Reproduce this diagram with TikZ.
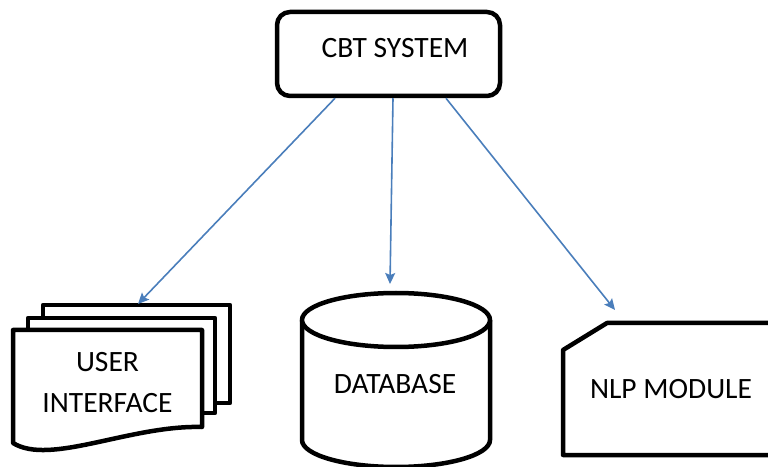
\documentclass[tikz,border=0pt]{standalone}
\usepackage{fontspec}
\setmainfont{Carlito}
\usetikzlibrary{arrows.meta,calc}
\definecolor{arrblue}{RGB}{74,126,187}
\tikzset{
  shapeline/.style={line width=4.5pt, draw=black, fill=white, line join=round},
  conn/.style={draw=arrblue, line width=1.6pt, -{Stealth[length=11pt,width=10pt,inset=2pt]}},
  lbl/.style={font=\fontsize{29.5}{35}\selectfont, inner sep=0pt, anchor=center}
}
\begin{document}
\begin{tikzpicture}[x=1pt,y=1pt]
\useasboundingbox (0,0) rectangle (768,466);
\clip (0,0) rectangle (768,466);
% CBT system box
\node[shapeline, rounded corners=13pt, minimum width=223pt, minimum height=84pt, inner sep=0pt] (cbt) at (388.5,412) {};
\node[lbl] (cbttxt) at (395,418) {CBT SYSTEM};
% user interface (multi-document)
\draw[shapeline] (43,63) rectangle (230,161);
\draw[shapeline] (28,53) rectangle (215,148);
\draw[shapeline] (13,136) -- (202,136) -- (202,39) .. controls (130,41) and (50,0) .. (13,23) -- cycle;
\node[lbl] (ui1) at (107.5,104) {USER};
\node[lbl] (ui) at (107.5,63) {INTERFACE};
% database cylinder
\draw[shapeline] (302,146) -- (302,26) arc[start angle=180, end angle=360, x radius=94, y radius=27] -- (490,146);
\draw[shapeline] (396,146) ellipse[x radius=94, y radius=27];
\node[lbl] (db) at (395,81.5) {DATABASE};
% NLP module (snipped corner)
\draw[shapeline] (563,116) -- (607,143) -- (790,143) -- (790,11) -- (563,11) -- cycle;
\node[lbl] (nlp) at (671,76.5) {NLP MODULE};
% connector end points
\coordinate (uitop) at (138,162);
\coordinate (dbtop) at (390,182);
\coordinate (nlptop) at (615,156);
\draw[conn] ($(cbt.south)+(-53.5,0)$) -- (uitop);
\draw[conn] ($(cbt.south)+(4.5,0)$) -- (dbtop);
\draw[conn] ($(cbt.south)+(57.5,0)$) -- (nlptop);
\end{tikzpicture}
\end{document}
